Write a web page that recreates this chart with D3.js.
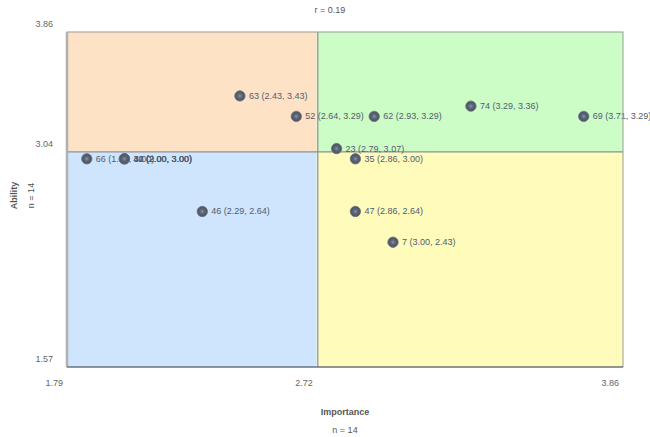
<!DOCTYPE html>
<html>
<head>
<meta charset="utf-8">
<script src="https://cdn.jsdelivr.net/npm/d3@7"></script>
<style>
  body { margin: 0; background: #fff; }
  text { font-family: "Liberation Sans", Arial, sans-serif; }
  .tick { font-size: 9px; fill: #666; }
  .title { font-size: 9px; fill: #555; }
  .ptLabel { font-size: 9px; fill: #525c70; }
</style>
</head>
<body>
<div id="chart"></div>
<script>
// data
const ids        = ["63", "52", "62", "74", "69", "23", "66", "34", "40", "35", "46", "47", "7", "42"];
const importance = [2.43, 2.64, 2.93, 3.29, 3.71, 2.79, 1.86, 2.00, 2.00, 2.86, 2.29, 2.86, 3.00, 2.00];
const ability    = [3.43, 3.29, 3.29, 3.36, 3.29, 3.07, 3.00, 3.00, 3.00, 3.00, 2.64, 2.64, 2.43, 3.00];
const xTicks = [1.79, 2.72, 3.86];
const yTicks = [1.57, 3.04, 3.86];
const rValue = "0.19";

const points = ids.map((id, i) => ({id: id, x: importance[i], y: ability[i]}));

// setup
const width = 650;
const height = 437;
const margin = {top: 32, right: 27, bottom: 70, left: 67};
const plotWidth = width - margin.left - margin.right;
const plotHeight = height - margin.top - margin.bottom;

const svg = d3.select("#chart").append("svg")
    .attr("width", width)
    .attr("height", height);

const x = d3.scaleLinear()
    .domain([xTicks[0], xTicks[2]])
    .range([margin.left, margin.left + plotWidth]);

const y = d3.scaleLinear()
    .domain([yTicks[0], yTicks[2]])
    .range([margin.top + plotHeight, margin.top]);

// quadrants
const xMid = xTicks[1], yMid = yTicks[1];
const quads = [
  {x0: xTicks[0], x1: xMid, y0: yMid, y1: yTicks[2], fill: "#fee2c6"},
  {x0: xMid, x1: xTicks[2], y0: yMid, y1: yTicks[2], fill: "#cdfdc6"},
  {x0: xTicks[0], x1: xMid, y0: yTicks[0], y1: yMid, fill: "#cfe5fd"},
  {x0: xMid, x1: xTicks[2], y0: yTicks[0], y1: yMid, fill: "#fefbbb"}
];

svg.selectAll("rect.quad")
  .data(quads)
    .enter()
  .append("rect")
    .attr("class", "quad")
    .attr("x", d => x(d.x0))
    .attr("y", d => y(d.y1))
    .attr("width", d => x(d.x1) - x(d.x0))
    .attr("height", d => y(d.y0) - y(d.y1))
    .attr("fill", d => d.fill);

// midlines
svg.append("line")
    .attr("x1", x(xMid) + 1).attr("x2", x(xMid) + 1)
    .attr("y1", y(yTicks[2])).attr("y2", y(yTicks[0]))
    .attr("stroke", "#8a8f98").attr("stroke-width", 1.2);

svg.append("line")
    .attr("x1", x(xTicks[0])).attr("x2", x(xTicks[2]))
    .attr("y1", y(yMid)).attr("y2", y(yMid))
    .attr("stroke", "#8a8f98").attr("stroke-width", 1.2);

// points: labels first so the dots sit on top
const defs = svg.append("defs");
const grad = defs.append("radialGradient").attr("id", "dotGrad");
grad.append("stop").attr("offset", "0%").attr("stop-color", "#8a93a3");
grad.append("stop").attr("offset", "45%").attr("stop-color", "#5a6474");
grad.append("stop").attr("offset", "100%").attr("stop-color", "#4a5262");

const pts = svg.append("g").attr("id", "points");

pts.selectAll("text")
  .data(points)
    .enter()
  .append("text")
    .attr("class", "ptLabel")
    .attr("x", d => x(d.x) + 10)
    .attr("y", d => y(d.y) + 4)
    .text(d => `${d.id} (${d.x.toFixed(2)}, ${d.y.toFixed(2)})`);

pts.selectAll("circle")
  .data(points)
    .enter()
  .append("circle")
    .attr("cx", d => x(d.x) + 1)
    .attr("cy", d => y(d.y) + 1)
    .attr("r", 5.2)
    .attr("fill", "url(#dotGrad)")
    .attr("stroke", "#6b7484")
    .attr("stroke-width", 0.8);

// outer border
svg.append("rect")
    .attr("x", margin.left)
    .attr("y", margin.top)
    .attr("width", plotWidth)
    .attr("height", plotHeight)
    .attr("fill", "none")
    .attr("stroke", "#9a9a9a")
    .attr("stroke-width", 1);

svg.append("line")
    .attr("x1", margin.left).attr("x2", margin.left)
    .attr("y1", margin.top).attr("y2", margin.top + plotHeight)
    .attr("stroke", "#b0b0b0").attr("stroke-width", 2.5);

svg.append("line")
    .attr("x1", margin.left).attr("x2", margin.left + plotWidth)
    .attr("y1", margin.top + plotHeight).attr("y2", margin.top + plotHeight)
    .attr("stroke", "#55606e").attr("stroke-width", 1.2);

// tick labels
svg.selectAll("text.xTick")
  .data(xTicks)
    .enter()
  .append("text")
    .attr("class", "tick xTick")
    .attr("x", d => x(d) - 4)
    .attr("y", margin.top + plotHeight + 19)
    .attr("text-anchor", "end")
    .text(d => d.toFixed(2));

svg.selectAll("text.yTick")
  .data(yTicks)
    .enter()
  .append("text")
    .attr("class", "tick yTick")
    .attr("x", margin.left - 14)
    .attr("y", d => y(d) - 5)
    .attr("text-anchor", "end")
    .text(d => d.toFixed(2));

// titles
const cx = margin.left + plotWidth / 2;
const cy = margin.top + plotHeight / 2;

svg.append("text")
    .attr("class", "title")
    .attr("x", cx - 15).attr("y", 13)
    .attr("text-anchor", "middle")
    .text(`r = ${rValue}`);

svg.append("text")
    .attr("class", "title")
    .attr("x", cx).attr("y", 415)
    .attr("text-anchor", "middle")
    .attr("font-weight", "bold")
    .text("Importance");

svg.append("text")
    .attr("class", "title")
    .attr("x", cx).attr("y", 433)
    .attr("text-anchor", "middle")
    .text(`n = ${points.length}`);

svg.append("text")
    .attr("class", "title")
    .attr("transform", `translate(17, ${cy - 4}) rotate(-90)`)
    .attr("text-anchor", "middle")
    .attr("font-weight", "bold")
    .text("Ability");

svg.append("text")
    .attr("class", "title")
    .attr("transform", `translate(34, ${cy - 4}) rotate(-90)`)
    .attr("text-anchor", "middle")
    .text(`n = ${points.length}`);
</script>
</body>
</html>
